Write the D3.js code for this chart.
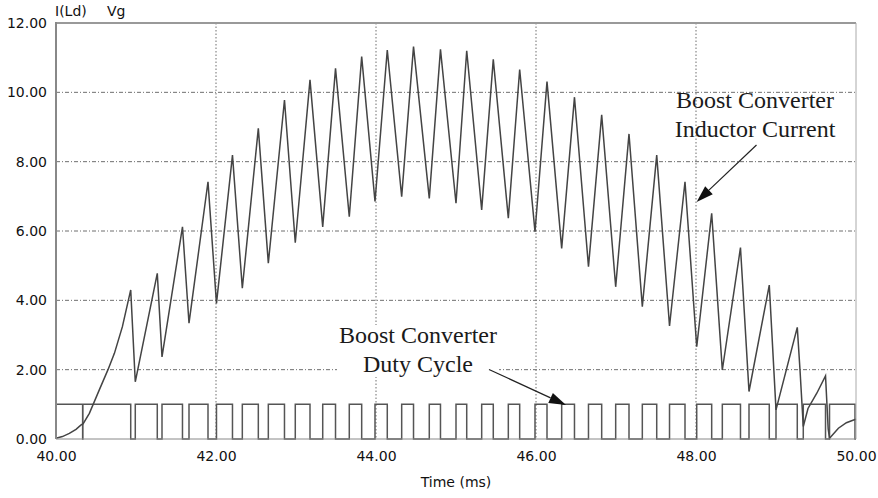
<!DOCTYPE html>
<html>
<head>
<meta charset="utf-8">
<script src="https://cdn.jsdelivr.net/npm/d3@7/dist/d3.min.js"></script>
<style>
  html, body { margin: 0; padding: 0; background: #fff; }
  svg { display: block; }
</style>
</head>
<body>
<svg id="chart" width="878" height="498"></svg>
<script>
// Inductor current I(Ld) in A, vertex times in ms
const currentTime = [
  40.00, 40.08, 40.167, 40.25, 40.31, 40.34, 40.417, 40.54, 40.65, 40.73, 40.83, 40.934,
  40.991, 41.266, 41.325, 41.581, 41.6625, 41.90, 42.006, 42.206, 42.329, 42.529,
  42.654, 42.856, 42.991, 43.175, 43.334, 43.494, 43.666, 43.821, 43.9875, 44.141,
  44.321, 44.469, 44.666, 44.806, 45.00, 45.134, 45.321, 45.466, 45.654, 45.796,
  45.9875, 46.1375, 46.321, 46.481, 46.656, 46.821, 46.996, 47.1625, 47.329, 47.509,
  47.669, 47.8625, 48.009, 48.196, 48.329, 48.556, 48.6625, 48.916, 49.00, 49.266,
  49.30, 49.341, 49.40, 49.51, 49.619, 49.652, 49.669, 49.78, 49.88, 49.97, 50.00
];
const currentAmps = [
  0.02, 0.07, 0.16, 0.28, 0.40, 0.44, 0.74, 1.41, 2.00, 2.47, 3.24, 4.30,
  1.65, 4.78, 2.37, 6.12, 3.34, 7.42, 3.91, 8.19, 4.35, 8.96,
  5.07, 9.78, 5.66, 10.36, 6.12, 10.69, 6.41, 11.03, 6.85, 11.22,
  6.99, 11.32, 6.94, 11.24, 6.80, 11.20, 6.61, 10.95, 6.37, 10.66,
  5.98, 10.31, 5.50, 9.86, 4.97, 9.35, 4.39, 8.80, 3.82, 8.19,
  3.26, 7.42, 2.66, 6.51, 1.99, 5.52, 1.37, 4.44, 0.84, 3.22,
  1.99, 0.36, 0.88, 1.32, 1.82, 0.30, 0.02, 0.31, 0.47, 0.55, 0.57
];

// Gate signal Vg: switch-on intervals (level 1), off elsewhere (level 0)
const dutyOnStart = [
  40.00, 40.336, 40.991, 41.325, 41.6625, 42.006, 42.329, 42.654, 42.991, 43.334,
  43.666, 43.9875, 44.321, 44.666, 45.00, 45.321, 45.654, 45.9875, 46.321, 46.656,
  46.996, 47.329, 47.669, 48.009, 48.329, 48.6625, 49.00, 49.341, 49.669
];
const dutyOnEnd = [
  40.333, 40.934, 41.266, 41.581, 41.90, 42.206, 42.529, 42.856, 43.175, 43.494,
  43.821, 44.141, 44.469, 44.806, 45.134, 45.466, 45.796, 46.1375, 46.481, 46.821,
  47.1625, 47.509, 47.8625, 48.196, 48.556, 48.916, 49.266, 49.619, 49.9875
];

const xTicks = [40, 42, 44, 46, 48, 50];
const yTicks = [0, 2, 4, 6, 8, 10, 12];
const seriesNames = ["I(Ld)", "Vg"];
const xTitle = "Time (ms)";

const svg = d3.select("#chart");
const plotL = 56, plotR = 856, plotT = 23, plotB = 439;

const x = d3.scaleLinear().domain([40, 50]).range([plotL, plotR]);
const y = d3.scaleLinear().domain([0, 12]).range([plotB, plotT]);

// Grid
const grid = svg.append("g");
grid.selectAll("line.hg")
  .data(yTicks.filter(v => v > 0 && v < 12))
  .join("line")
  .attr("x1", plotL).attr("x2", plotR)
  .attr("y1", d => y(d)).attr("y2", d => y(d))
  .attr("stroke", "#6f6f6f").attr("stroke-width", 1)
  .attr("stroke-dasharray", "4,2,1,2");
grid.selectAll("line.vg")
  .data(xTicks.filter(v => v > 40 && v < 50))
  .join("line")
  .attr("y1", plotT).attr("y2", plotB)
  .attr("x1", d => x(d)).attr("x2", d => x(d))
  .attr("stroke", "#6f6f6f").attr("stroke-width", 1)
  .attr("stroke-dasharray", "1.5,2");

// Gate signal square wave
const gatePts = [[40, 0]];
dutyOnStart.forEach((s, i) => {
  gatePts.push([s, 0], [s, 1], [dutyOnEnd[i], 1], [dutyOnEnd[i], 0]);
});
gatePts.push([50, 0]);

const line = d3.line().x(d => x(d[0])).y(d => y(d[1]));

svg.append("path")
  .datum(gatePts)
  .attr("d", line)
  .attr("fill", "none")
  .attr("stroke", "#555")
  .attr("stroke-width", 1.5);

// Inductor current
svg.append("path")
  .datum(currentTime.map((t, i) => [t, currentAmps[i]]))
  .attr("d", line)
  .attr("fill", "none")
  .attr("stroke", "#444")
  .attr("stroke-width", 1.5)
  .attr("stroke-linejoin", "miter");

// Frame
svg.append("line").attr("x1", plotL).attr("x2", plotR).attr("y1", plotT).attr("y2", plotT)
  .attr("stroke", "#999").attr("stroke-width", 2);
svg.append("line").attr("x1", plotR).attr("x2", plotR).attr("y1", plotT).attr("y2", plotB)
  .attr("stroke", "#aaa").attr("stroke-width", 1);
svg.append("line").attr("x1", plotL).attr("x2", plotR).attr("y1", plotB).attr("y2", plotB)
  .attr("stroke", "#888").attr("stroke-width", 1);
svg.append("line").attr("x1", plotL).attr("x2", plotL).attr("y1", plotT - 1).attr("y2", plotB)
  .attr("stroke", "#888").attr("stroke-width", 2);

// Axes
const fmt = d3.format(".2f");
const yAxis = svg.append("g")
  .attr("transform", `translate(${plotL},0)`)
  .call(d3.axisLeft(y).tickValues(yTicks).tickFormat(fmt).tickSize(0).tickPadding(9));
const xAxis = svg.append("g")
  .attr("transform", `translate(0,${plotB})`)
  .call(d3.axisBottom(x).tickValues(xTicks).tickFormat(fmt).tickSize(0).tickPadding(12));
[yAxis, xAxis].forEach(a => {
  a.select(".domain").remove();
  a.selectAll("text")
    .attr("font-family", "DejaVu Sans, sans-serif")
    .attr("font-size", 14)
    .attr("fill", "#111");
});

svg.append("text")
  .attr("x", x(45)).attr("y", 487)
  .attr("text-anchor", "middle")
  .attr("font-family", "DejaVu Sans, sans-serif")
  .attr("font-size", 14)
  .attr("fill", "#111")
  .text(xTitle);

svg.append("text")
  .attr("x", 55).attr("y", 16)
  .attr("font-family", "DejaVu Sans, sans-serif")
  .attr("font-size", 14)
  .attr("fill", "#111")
  .text(seriesNames[0]);
svg.append("text")
  .attr("x", 107).attr("y", 16)
  .attr("font-family", "DejaVu Sans, sans-serif")
  .attr("font-size", 14)
  .attr("fill", "#111")
  .text(seriesNames[1]);

// Annotations
function arrow(x1, y1, x2, y2) {
  const ang = Math.atan2(y2 - y1, x2 - x1);
  const len = 17, hw = 5.5;
  const bx = x2 - len * Math.cos(ang), by = y2 - len * Math.sin(ang);
  svg.append("line")
    .attr("x1", x1).attr("y1", y1).attr("x2", bx).attr("y2", by)
    .attr("stroke", "#222").attr("stroke-width", 1.2);
  const px = -Math.sin(ang) * hw, py = Math.cos(ang) * hw;
  svg.append("path")
    .attr("d", `M${x2},${y2}L${bx + px},${by + py}L${bx - px},${by - py}Z`)
    .attr("fill", "#111");
}

function label(lines, cx, baseline, bg) {
  const g = svg.append("g");
  const t = g.append("text")
    .attr("font-family", "Liberation Serif, Times New Roman, serif")
    .attr("font-size", 24)
    .attr("fill", "#1a1a1a")
    .attr("text-anchor", "middle");
  lines.forEach((s, i) => {
    t.append("tspan").attr("x", cx).attr("y", baseline + i * 29).text(s);
  });
  if (bg) {
    const b = t.node().getBBox();
    g.insert("rect", "text")
      .attr("x", b.x - 2).attr("y", b.y + 3)
      .attr("width", b.width + 4).attr("height", b.height - 3)
      .attr("fill", "#fff");
  }
}

label(["Boost Converter", "Inductor Current"], 755, 108, false);
arrow(756.5, 145, x(48.008), y(6.84));

label(["Boost Converter", "Duty Cycle"], 418, 343, true);
arrow(489, 369.5, x(46.375), y(0.98));
</script>
</body>
</html>
